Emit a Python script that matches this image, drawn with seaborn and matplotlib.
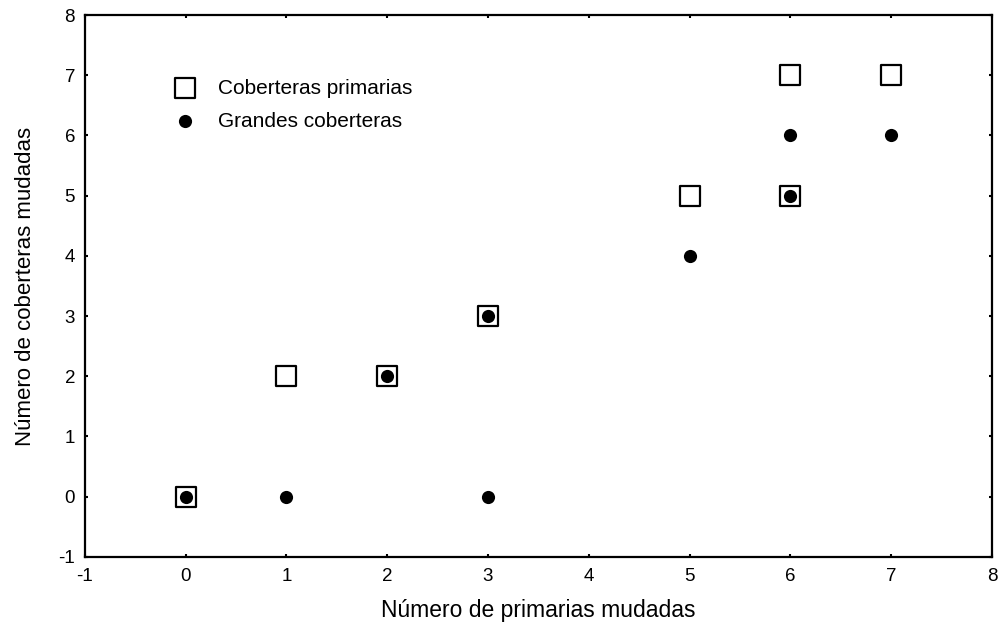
import pandas as pd
import matplotlib.pyplot as plt
import seaborn as sns

# Datos
prim_x = [0, 1, 2, 3, 5, 6, 6, 7]
prim_y = [0, 2, 2, 3, 5, 7, 5, 7]

grandes_x = [0, 1, 2, 3, 3, 5, 6, 6, 7]
grandes_y = [0, 0, 2, 3, 0, 4, 6, 5, 6]

ticks = [-1, 0, 1, 2, 3, 4, 5, 6, 7, 8]

sns.set_style("ticks")
plt.rcParams["font.family"] = ["Liberation Sans", "DejaVu Sans"]
plt.rcParams["axes.unicode_minus"] = False
plt.rcParams["text.color"] = "black"
plt.rcParams["axes.labelcolor"] = "black"

df_prim = pd.DataFrame({"x": prim_x, "y": prim_y})
df_gran = pd.DataFrame({"x": grandes_x, "y": grandes_y})

fig = plt.figure(figsize=(9.98, 6.25), dpi=100)
ax = fig.add_axes([0.085, 0.109, 0.909, 0.867])

sns.scatterplot(
    data=df_prim, x="x", y="y", ax=ax,
    marker="s", s=210, facecolor="white", edgecolor="black",
    linewidth=1.6, label="Coberteras primarias", zorder=3
)
sns.scatterplot(
    data=df_gran, x="x", y="y", ax=ax,
    marker="o", s=90, color="black", edgecolor="black",
    linewidth=0, label="Grandes coberteras", zorder=4
)

ax.set_xlim(-1, 8)
ax.set_ylim(-1, 8)
ax.set_xticks(ticks)
ax.set_yticks(ticks)
ax.tick_params(direction="in", length=2, width=1.5, labelsize=13.5,
               top=True, right=True, colors="black")
ax.tick_params(axis="x", pad=8)
ax.tick_params(axis="y", pad=7)

for side in ["left", "bottom", "top", "right"]:
    ax.spines[side].set_visible(True)
    ax.spines[side].set_linewidth(1.6)
    ax.spines[side].set_color("black")

ax.set_xlabel("Número de primarias mudadas", fontsize=16.5, labelpad=10)
ax.set_ylabel("Número de coberteras mudadas", fontsize=16, labelpad=16)

ax.legend(loc="upper left", bbox_to_anchor=(0.078, 0.917), frameon=False,
          fontsize=15, handlelength=1.0, handletextpad=1.09,
          labelspacing=0.68, borderpad=0.4)

plt.savefig("out.png", dpi=100)
